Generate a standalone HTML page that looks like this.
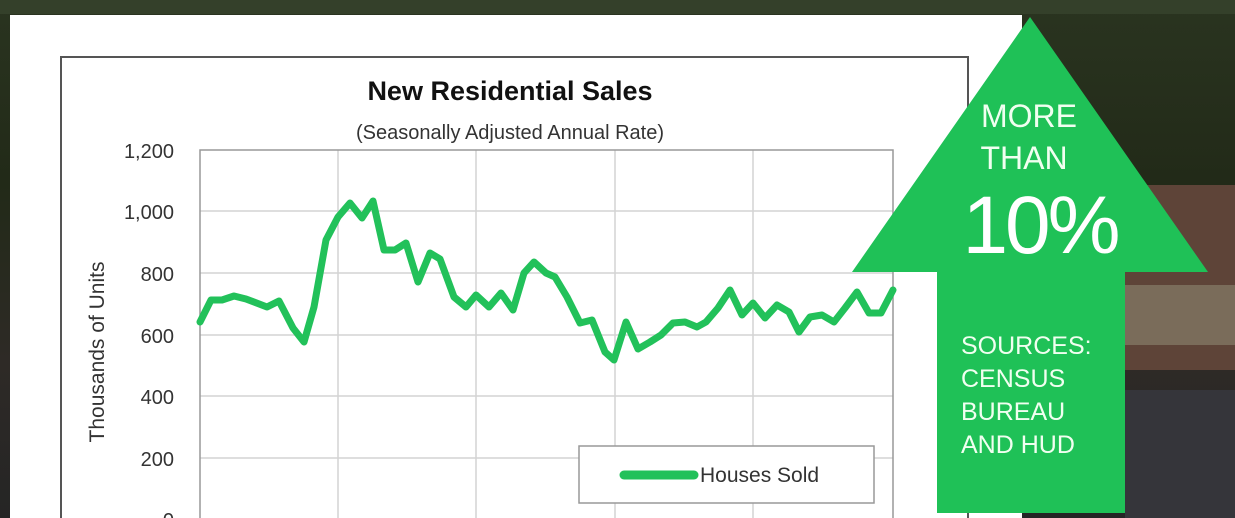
<!DOCTYPE html>
<html><head><meta charset="utf-8"><style>
html,body{margin:0;padding:0;}
body{width:1235px;height:518px;overflow:hidden;position:relative;background:#2a2a20;font-family:"Liberation Sans",sans-serif;}
</style></head><body>
<svg width="1235" height="518" viewBox="0 0 1235 518" style="position:absolute;left:0;top:0">
<defs>
<linearGradient id="bg" x1="0" y1="0" x2="0" y2="1">
<stop offset="0" stop-color="#2a3420"/><stop offset="0.35" stop-color="#222a18"/><stop offset="0.7" stop-color="#2e2a26"/><stop offset="1" stop-color="#252525"/></linearGradient>
</defs>
<rect width="1235" height="518" fill="url(#bg)"/>
<rect x="1125" y="185" width="110" height="185" fill="#5e4438"/>
<rect x="1125" y="285" width="110" height="60" fill="#7a6c5a"/>
<rect x="1125" y="390" width="110" height="128" fill="#35353a"/>
<rect x="0" y="0" width="1235" height="14" fill="#34402a"/>
<rect x="10" y="15" width="1012" height="503" fill="#ffffff"/>
<rect x="61" y="57" width="907" height="470" fill="none" stroke="#555" stroke-width="2"/>
<g stroke="#d4d4d4" stroke-width="1.5">
<line x1="200" y1="211" x2="893" y2="211"/><line x1="200" y1="273" x2="893" y2="273"/>
<line x1="200" y1="335" x2="893" y2="335"/><line x1="200" y1="396" x2="893" y2="396"/>
<line x1="200" y1="458" x2="893" y2="458"/>
<line x1="338" y1="150" x2="338" y2="518"/><line x1="476" y1="150" x2="476" y2="518"/>
<line x1="615" y1="150" x2="615" y2="518"/><line x1="753" y1="150" x2="753" y2="518"/>
</g>
<rect x="200" y="150" width="693" height="380" fill="none" stroke="#999" stroke-width="1.5"/>
<text x="510" y="100" font-size="27" font-weight="bold" text-anchor="middle" fill="#111">New Residential Sales</text>
<text x="510" y="139" font-size="20" text-anchor="middle" fill="#333">(Seasonally Adjusted Annual Rate)</text>
<g font-size="20" fill="#333" text-anchor="end">
<text x="174" y="158">1,200</text><text x="174" y="219">1,000</text><text x="174" y="281">800</text>
<text x="174" y="343">600</text><text x="174" y="404">400</text><text x="174" y="466">200</text><text x="174" y="527">0</text>
</g>
<text transform="translate(104,352) rotate(-90)" font-size="21" text-anchor="middle" fill="#333">Thousands of Units</text>
<polyline fill="none" stroke="#22c15a" stroke-width="7" stroke-linejoin="round" stroke-linecap="round" points="200,322 211,300 222,300 234,296 246,299 267,307 279,301 293,328 304,342 314,307 326,240 338,217 350,203 362,218 373,201 384,250 395,250 406,243 418,282 430,253 440,259 454,297 466,307 476,295 489,307 501,293 513,310 524,273 534,262 546,273 555,277 567,297 580,323 592,320 605,352 614,360 626,322 638,349 650,342 661,335 673,323 685,322 697,327 706,322 718,308 730,290 742,315 753,303 765,318 777,305 789,312 799,332 810,317 822,315 834,322 845,308 857,292 869,313 881,313 893,290"/>
<rect x="579" y="446" width="295" height="57" fill="#fff" stroke="#999" stroke-width="1.5"/>
<line x1="624" y1="475" x2="694" y2="475" stroke="#22c15a" stroke-width="9" stroke-linecap="round"/>
<text x="700" y="482" font-size="21" fill="#333">Houses Sold</text>
<polygon points="1030,17 1208,272 1125,272 1125,513 937,513 937,272 852,272" fill="#1fc157"/>
<g fill="#f0fff0" font-size="32" text-anchor="middle">
<text x="1029" y="127">MORE</text><text x="1024" y="169">THAN</text>
</g>
<text x="1040" y="253" font-size="82" fill="#fff" text-anchor="middle" letter-spacing="-3">10%</text>
<g fill="#f0fff0" font-size="25">
<text x="961" y="354">SOURCES:</text><text x="961" y="387">CENSUS</text>
<text x="961" y="420">BUREAU</text><text x="961" y="453">AND HUD</text>
</g>
</svg>
</body></html>
